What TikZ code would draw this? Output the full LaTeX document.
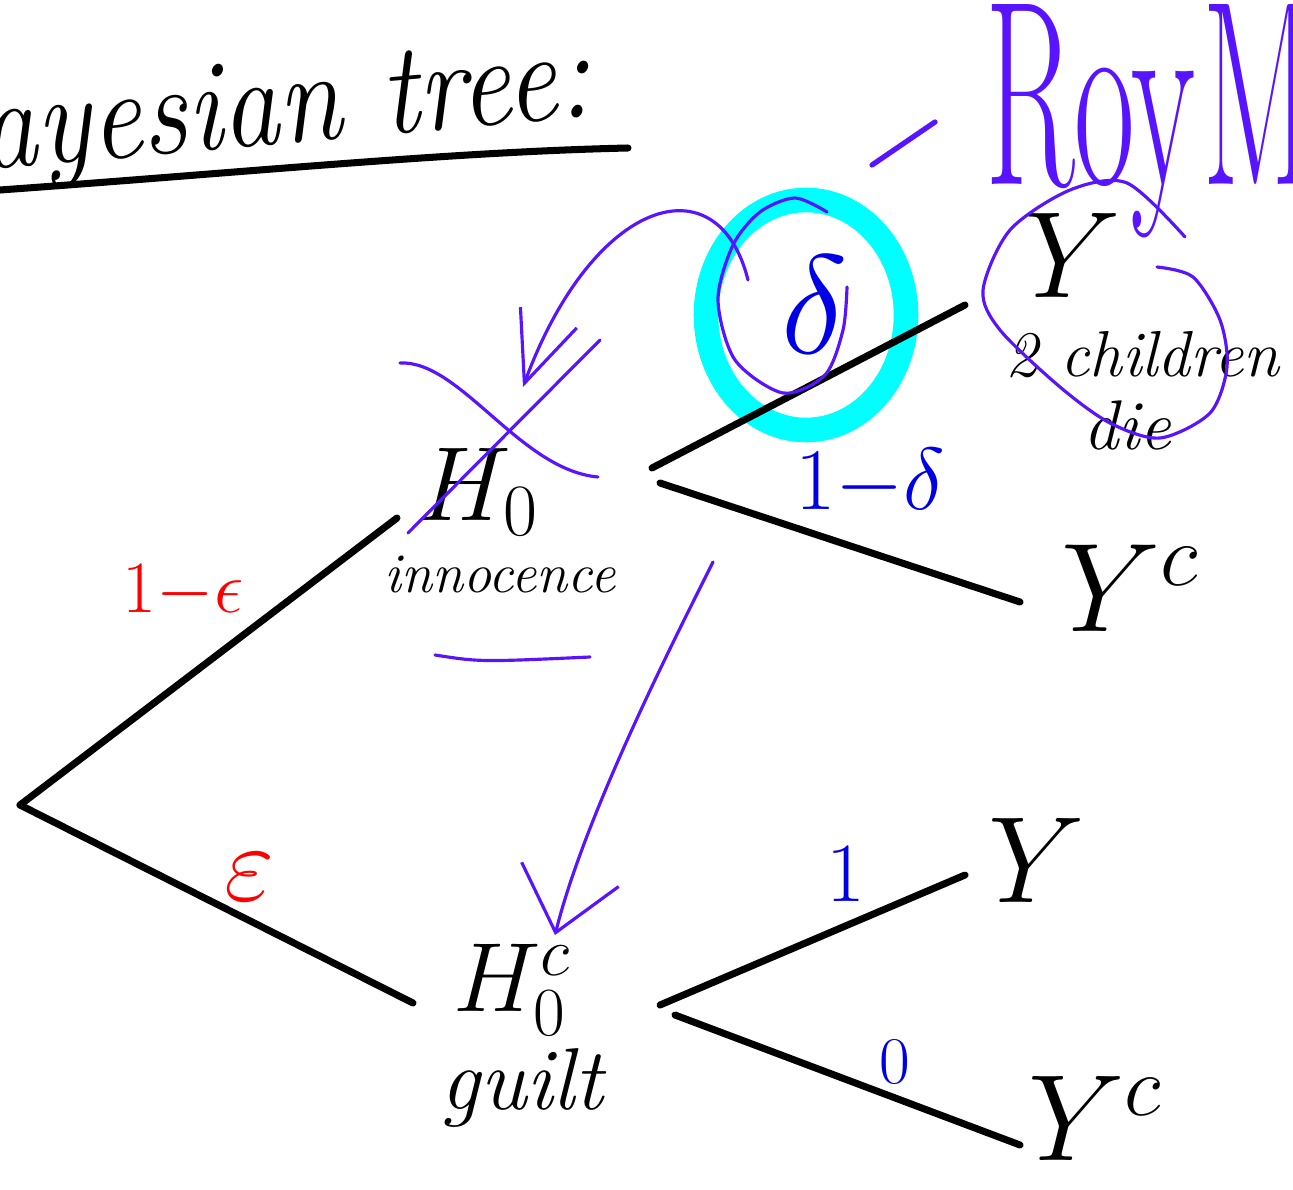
\RequirePackage{fix-cm}
\documentclass[tikz,border=0pt]{standalone}
\usepackage{amsmath}
\usetikzlibrary{calc,arrows.meta}

\definecolor{violeta}{RGB}{88,20,255}
\definecolor{azul}{RGB}{0,0,230}
\definecolor{cian}{RGB}{0,255,255}
\definecolor{rojo}{RGB}{255,0,0}

\newcommand{\tam}[1]{\fontsize{#1}{#1}\selectfont}

\begin{document}
\begin{tikzpicture}[x=0.02cm,y=-0.02cm,line cap=round,line join=round,
  rama/.style={line width=4pt},
  trazo/.style={draw=violeta,line width=1.8pt},
  txt/.style={inner sep=0pt},
  puntaA/.style={-{Straight Barb[length=14mm,width=12mm]}},
  puntaB/.style={-{Straight Barb[length=12mm,width=20mm]}}]
  \useasboundingbox (0,0) rectangle (1293,1189);
  \clip (0,0) rectangle (1293,1189);
  % titulo
  \node[txt,anchor=base west,rotate=5,xscale=0.88,font=\tam{74}\itshape] (titulo) at (-18,170) {ayesian tree:};
  \draw[rama] (0,190) .. controls (250,172) and (450,152) .. (628,148);
  % resaltado de delta
  \draw[cian,line width=14pt] (806,315) ellipse [x radius=100,y radius=115];
  % nodos
  \coordinate (raiz) at (20,805);
  \node[txt,font=\tam{60}] (h0) at (478,492) {$H_0$};
  \node[txt,font=\tam{32}\itshape] (inoc) at (500,575) {innocence};
  \node[txt,font=\tam{56}] (h0c) at (512,990) {$H_0^c$};
  \node[txt,font=\tam{50}\itshape] (culpa) at (522,1088) {guilt};
  \node[txt,font=\tam{70}] (y1) at (1073,255) {$Y$};
  \node[txt,font=\tam{37}\itshape] (ninos) at (1142,355) {2 children};
  \node[txt,font=\tam{40}\itshape] (mueren) at (1127,425) {die};
  \node[txt,font=\tam{72}] (y1c) at (1130,588) {$Y^c$};
  \node[txt,font=\tam{70}] (y2) at (1037,860) {$Y$};
  \node[txt,font=\tam{70}] (y2c) at (1095,1118) {$Y^c$};
  % ramas
  \draw[rama] (raiz) -- ($(h0)+(-81,26)$);
  \draw[rama] (raiz) -- ($(h0c)+(-99,13)$);
  \draw[rama] ($(h0)+(174,-24)$) -- ($(y1)+(-108,50)$);
  \draw[rama] ($(h0)+(182,-9)$) -- ($(y1c)+(-110,14)$);
  \draw[rama] ($(h0c)+(148,15)$) -- ($(y2)+(-72,15)$);
  \draw[rama] ($(h0c)+(163,25)$) -- ($(y2c)+(-75,27)$);
  % probabilidades
  \node[txt,text=rojo,font=\tam{42}] (pe1) at (183,592) {$1{-}\epsilon$};
  \node[txt,text=rojo,font=\tam{62}] (pe2) at (249,877) {$\varepsilon$};
  \node[txt,text=azul,font=\tam{80}] (pd1) at (815,305) {$\delta$};
  \node[txt,text=azul,font=\tam{50}] (pd2) at (870,483) {$1{-}\delta$};
  \node[txt,text=azul,font=\tam{48}] (pu) at (846,874) {$1$};
  \node[txt,text=azul,font=\tam{38}] (pz) at (895,1062) {$0$};
  % notas
  \node[txt,anchor=base west,xscale=0.5,text=violeta,font=\tam{150}] (roy) at (985,185) {Roy \kern-0.25em M};
  \draw[trazo,line width=3pt] (872,165) -- (935,122);
  \draw[trazo] plot[smooth] coordinates {(827,212) (795,198) (760,212) (733,245) (718,300) (735,360) (783,393) (825,375) (843,330) (847,287)};
  \draw[trazo] plot[smooth] coordinates {(1185,237) (1127,183) (1070,190) (1010,230) (983,290) (1000,330) (1060,387) (1110,423) (1160,438) (1210,413) (1227,367) (1220,320) (1193,277) (1157,267)};
  \draw[trazo,puntaA] ($(pd1)+(-67,-25)$) .. controls +(-30,-120) and +(70,-190) .. ($(h0)+(45,-105)$);
  \draw[trazo] (408,533) -- (600,340);
  \draw[trazo] (400,363) .. controls (460,360) and (520,470) .. (598,477);
  \draw[trazo] (435,655) .. controls (480,662) .. (590,657);
  \draw[trazo,puntaB] ($(inoc)+(213,-13)$) .. controls +(-40,80) and +(30,-120) .. ($(h0c)+(43,-55)$);
\end{tikzpicture}
\end{document}
